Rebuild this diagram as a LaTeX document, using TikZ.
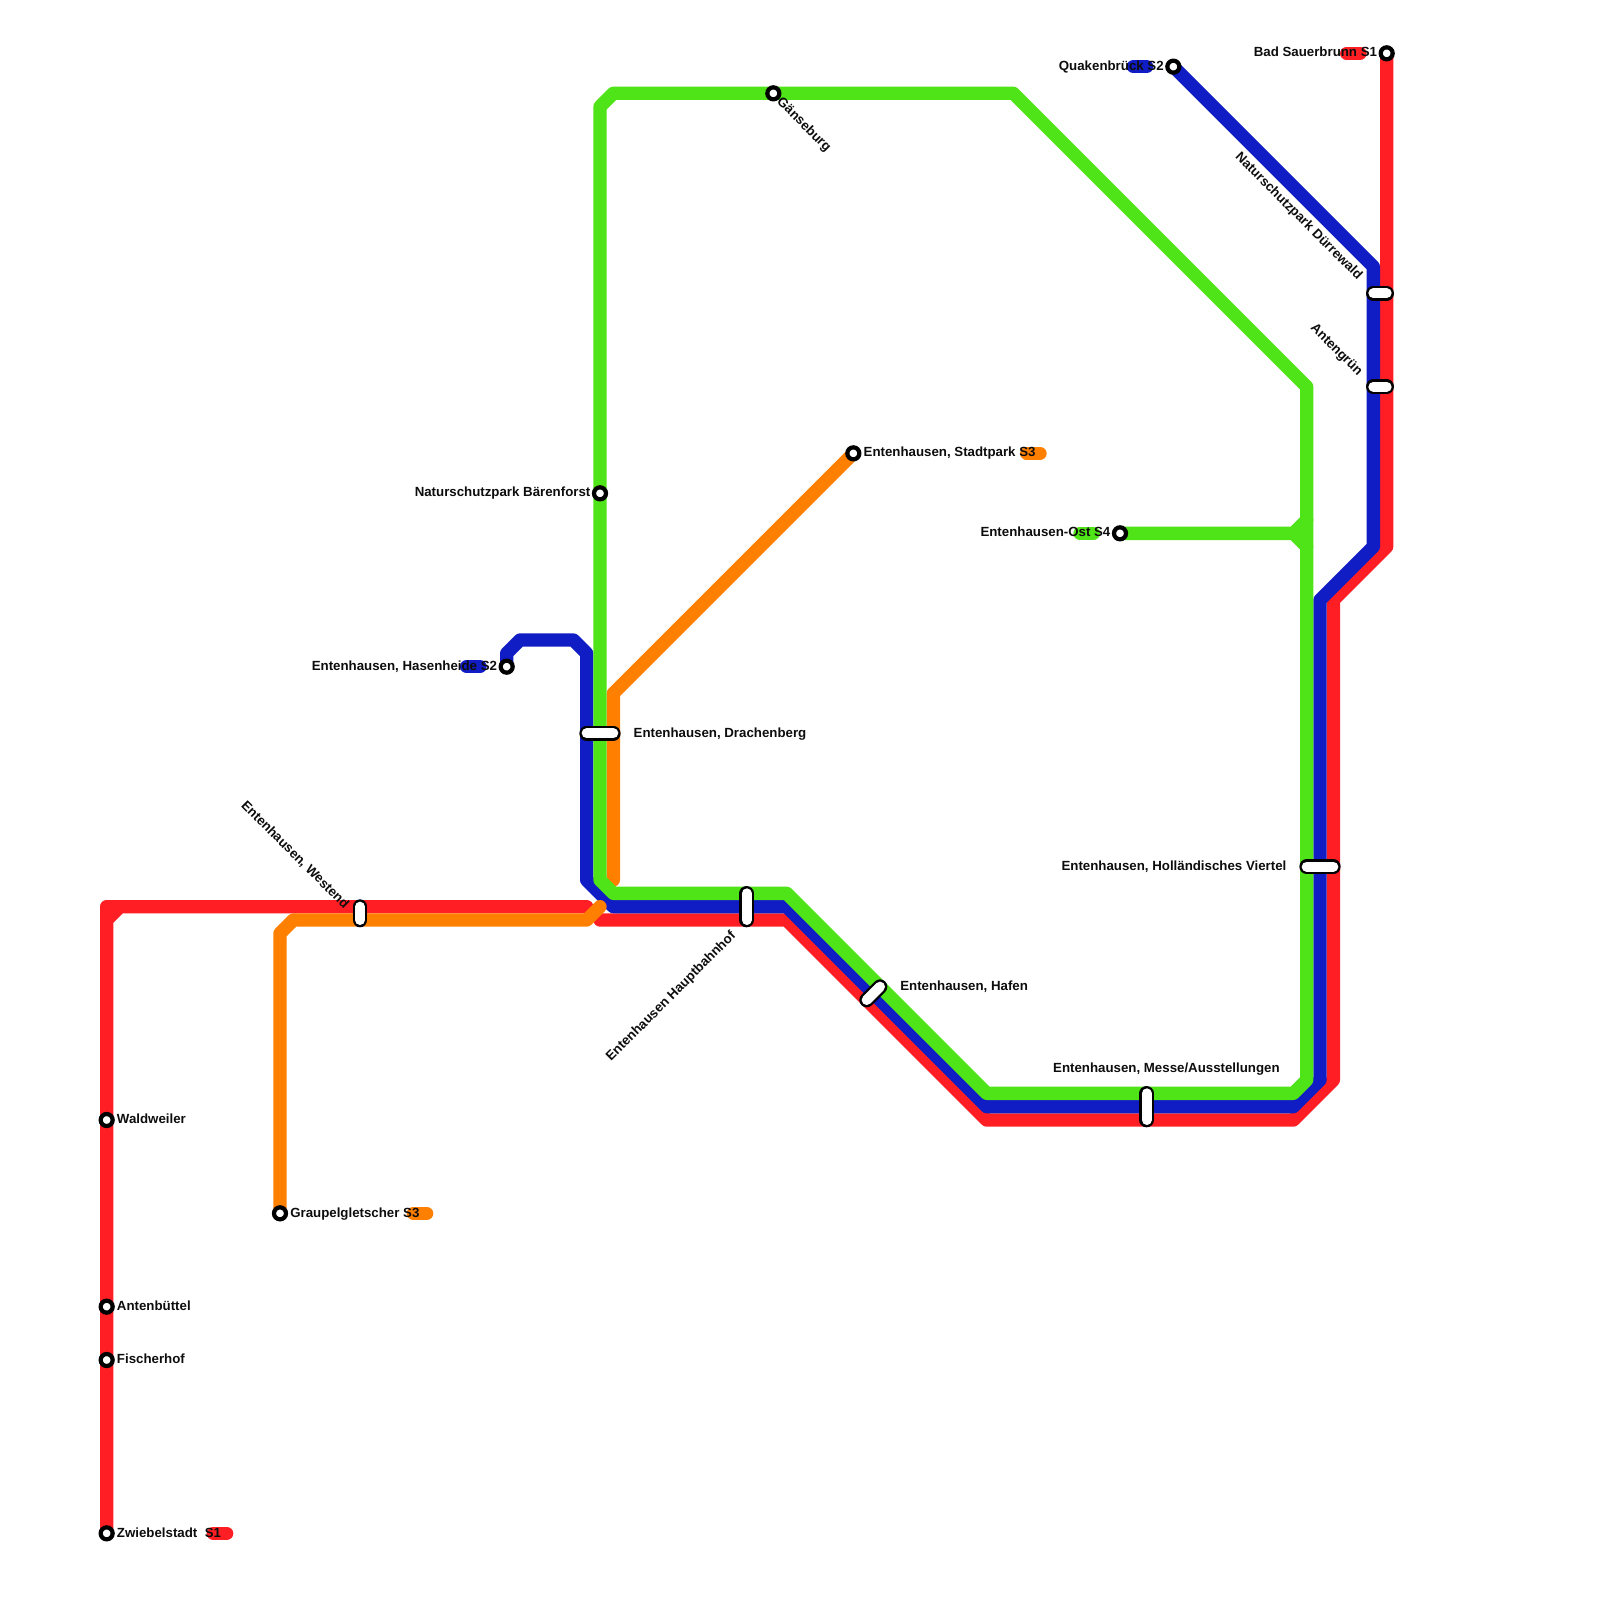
\documentclass[tikz,border=0pt]{standalone}
\usepackage{fontspec}
\setmainfont{Liberation Sans}
\usetikzlibrary{backgrounds}
\definecolor{lred}{HTML}{FF1E24}
\definecolor{lblue}{HTML}{101CC4}
\definecolor{lgreen}{HTML}{4FE418}
\definecolor{lorange}{HTML}{FF8000}
\pgfdeclarelayer{lines}
\pgfsetlayers{lines,main}
\tikzset{
  metro/.style={line width=0.3cm,line join=round,line cap=round},
  stationdot/.style={circle,draw=black,fill=white,line width=0.095cm,minimum size=0.27cm,inner sep=0pt},
  lbl/.style={font=\bfseries\fontsize{8.5}{10}\selectfont,inner sep=0pt,text=black!95},
  lw/.style={lbl,anchor=base west},
  le/.style={lbl,anchor=base east},
  rw/.style={lbl,anchor=west},
  re/.style={lbl,anchor=east},
  capouter/.style={line width=0.33cm,line cap=round,draw=black},
  capinner/.style={line width=0.225cm,line cap=round,draw=white}
}
\newcommand{\capsule}[2]{\draw[capouter] (#1) -- (#2); \draw[capinner] (#1) -- (#2);}
\begin{document}
\begin{tikzpicture}[x=0.3cm,y=-0.3cm]
\useasboundingbox (0,0) rectangle (120,120);
% stations
\node[stationdot] (zw) at (8,115) {};
\node[stationdot] (fi) at (8,102) {};
\node[stationdot] (an) at (8,98) {};
\node[stationdot] (wa) at (8,84) {};
\node[stationdot] (gr) at (21,91) {};
\node[stationdot] (ha) at (38,50) {};
\node[stationdot] (ba) at (45,37) {};
\node[stationdot] (ga) at (58,7) {};
\node[stationdot] (st) at (64,34) {};
\node[stationdot] (os) at (84,40) {};
\node[stationdot] (qu) at (88,5) {};
\node[stationdot] (sa) at (104,4) {};
% interchange anchors
\coordinate (dr1) at (44,55); \coordinate (dr2) at (46,55);
\coordinate (we1) at (27,68); \coordinate (we2) at (27,69);
\coordinate (hb1) at (56,67); \coordinate (hb2) at (56,69);
\coordinate (hf1) at (65,75); \coordinate (hf2) at (66,74);
\coordinate (me1) at (86,82); \coordinate (me2) at (86,84);
\coordinate (ho1) at (98,65); \coordinate (ho2) at (100,65);
\coordinate (du1) at (103,22); \coordinate (du2) at (104,22);
\coordinate (at1) at (103,29); \coordinate (at2) at (104,29);
\begin{pgfonlayer}{lines}
% red
\draw[metro,lred] (zw.center) -- (8,69) -- (9,68) -- (44,68);
\draw[metro,lred] (8,69) -- (8,68) -- (9,68);
\draw[metro,lred] (45,69) -- (59,69) -- (74,84) -- (97,84) -- (100,81) -- (100,45) -- (104,41) -- (sa.center);
\draw[metro,lred] (16,115) -- (17,115);
\draw[metro,lred] (101,4) -- (102,4);
% blue
\draw[metro,lblue] (qu.center) -- (103,20) -- (103,41) -- (99,45) -- (99,81) -- (97,83) -- (74,83) -- (59,68) -- (46,68) -- (44,66) -- (44,49) -- (43,48) -- (39,48) -- (38,49) -- (ha.center);
\draw[metro,lblue] (85,5) -- (86,5);
\draw[metro,lblue] (35,50) -- (36,50);
% orange
\draw[metro,lorange] (st.center) -- (46,52) -- (46,66);
\draw[metro,lorange] (gr.center) -- (21,70) -- (22,69) -- (44,69) -- (45,68);
\draw[metro,lorange] (77,34) -- (78,34);
\draw[metro,lorange] (31,91) -- (32,91);
% green
\draw[metro,lgreen] (45,8) -- (46,7) -- (76,7) -- (98,29) -- (98,81) -- (97,82) -- (74,82) -- (59,67) -- (46,67) -- (45,66) -- cycle;
\draw[metro,lgreen] (os.center) -- (97,40) -- (98,39);
\draw[metro,lgreen] (97,40) -- (98,41);
\draw[metro,lgreen] (81,40) -- (82,40);
\end{pgfonlayer}
% interchanges
\capsule{dr1}{dr2}
\capsule{we1}{we2}
\capsule{hb1}{hb2}
\capsule{hf1}{hf2}
\capsule{me1}{me2}
\capsule{ho1}{ho2}
\capsule{du1}{du2}
\capsule{at1}{at2}
% labels
\node[lw] (lzw) at (8.75,115.34) {Zwiebelstadt\ \ S1};
\node[lw] (lfi) at (8.75,102.27) {Fischerhof};
\node[lw] (lan) at (8.75,98.27) {Antenbüttel};
\node[lw] (lwa) at (8.75,84.27) {Waldweiler};
\node[lw] (lgr) at (21.75,91.32) {Graupelgletscher S3};
\node[le] (lha) at (37.3,50.27) {Entenhausen, Hasenheide S2};
\node[le] (lba) at (44.3,37.27) {Naturschutzpark Bärenforst};
\node[lw] (lst) at (64.75,34.27) {Entenhausen, Stadtpark S3};
\node[le] (los) at (83.3,40.27) {Entenhausen-Ost S4};
\node[le] (lqu) at (87.3,5.27) {Quakenbrück S2};
\node[le] (lsa) at (103.3,4.27) {Bad Sauerbrunn S1};
\node[rw,rotate=-45] (lga) at (58.4,7.5) {Gänseburg};
\node[lw] (ldr) at (47.5,55.3) {Entenhausen, Drachenberg};
\node[lw] (lhf) at (67.5,74.25) {Entenhausen, Hafen};
\node[le] (lme) at (96,80.47) {Entenhausen, Messe/Ausstellungen};
\node[le] (lho) at (96.5,65.27) {Entenhausen, Holländisches Viertel};
\node[re,rotate=-45] (ldu) at (102,20.85) {Naturschutzpark Dürrewald};
\node[re,rotate=-45] (lat) at (102,28.05) {Antengrün};
\node[re,rotate=-45] (lwe) at (26.0,68) {Entenhausen, Westend};
\node[re,rotate=45] (lhb) at (55.05,70.05) {Entenhausen Hauptbahnhof};
\end{tikzpicture}
\end{document}
